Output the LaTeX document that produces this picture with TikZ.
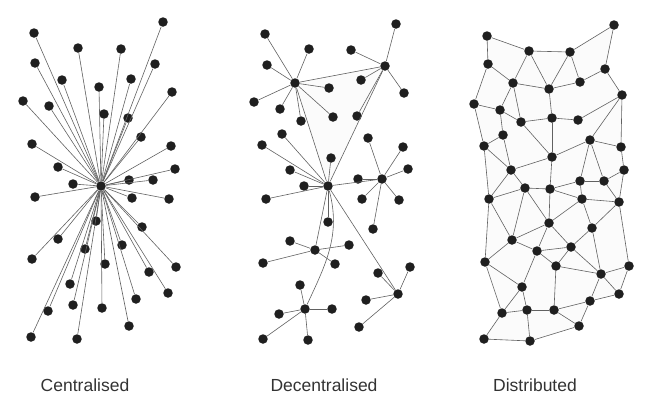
\documentclass[tikz,border=0pt]{standalone}
\usepackage{fontspec}
\setmainfont{Liberation Sans}
\usetikzlibrary{backgrounds}

\begin{document}
\begin{tikzpicture}[x=1pt, y=-1pt, -, semithick]
\tikzstyle{dot}=[circle,fill=black!88,inner sep=0pt,minimum size=9.5pt]
\tikzstyle{every edge}=[draw,black!62,line width=0.6pt]
\tikzstyle{caption}=[text=black!80,font=\fontsize{17.5}{20}\selectfont]
\useasboundingbox (0,0) rectangle (649,408);
% centralised
\node[dot] (C) at (101,186) {};
\node[dot] (c1) at (163,22) {};  \node[dot] (c2) at (34,33) {};   \node[dot] (c3) at (78,48) {};
\node[dot] (c4) at (121,49) {};  \node[dot] (c5) at (35,63) {};   \node[dot] (c6) at (155,64) {};
\node[dot] (c7) at (62,80) {};   \node[dot] (c8) at (131,79) {};  \node[dot] (c9) at (99,87) {};
\node[dot] (c10) at (172,92) {}; \node[dot] (c11) at (23,101) {}; \node[dot] (c12) at (49,106) {};
\node[dot] (c13) at (104,114) {};\node[dot] (c14) at (128,118) {};\node[dot] (c15) at (141,137) {};
\node[dot] (c16) at (32,144) {}; \node[dot] (c17) at (171,146) {};\node[dot] (c18) at (58,167) {};
\node[dot] (c19) at (175,169) {};\node[dot] (c20) at (129,180) {};\node[dot] (c21) at (153,180) {};
\node[dot] (c22) at (73,184) {}; \node[dot] (c23) at (35,197) {}; \node[dot] (c24) at (132,198) {};
\node[dot] (c25) at (169,199) {};\node[dot] (c26) at (96,221) {}; \node[dot] (c27) at (142,227) {};
\node[dot] (c28) at (58,239) {}; \node[dot] (c29) at (85,249) {}; \node[dot] (c30) at (122,245) {};
\node[dot] (c31) at (32,259) {}; \node[dot] (c32) at (105,264) {};\node[dot] (c33) at (176,267) {};
\node[dot] (c34) at (149,272) {};\node[dot] (c35) at (70,284) {}; \node[dot] (c36) at (168,293) {};
\node[dot] (c37) at (136,299) {};\node[dot] (c38) at (73,305) {}; \node[dot] (c39) at (102,308) {};
\node[dot] (c40) at (48,311) {}; \node[dot] (c41) at (129,326) {};\node[dot] (c42) at (31,337) {};
\node[dot] (c43) at (77,339) {};
\path (C) edge (c1) edge (c2) edge (c3) edge (c4) edge (c5) edge (c6) edge (c7) edge (c8)
          edge (c9) edge (c10) edge (c11) edge (c12) edge (c13) edge (c14) edge (c15)
          edge (c16) edge (c17) edge (c18) edge (c19) edge (c20) edge (c21) edge (c22)
          edge (c23) edge (c24) edge (c25) edge (c26) edge (c27) edge (c28) edge (c29)
          edge (c30) edge (c31) edge (c32) edge (c33) edge (c34) edge (c35) edge (c36)
          edge (c37) edge (c38) edge (c39) edge (c40) edge (c41) edge (c42) edge (c43);
\node[caption] (capC) at (85,385) {Centralised};

% decentralised
\node[dot] (D1) at (295,83) {};  \node[dot] (D2) at (385,66) {};  \node[dot] (D3) at (328,186) {};
\node[dot] (D4) at (382,179) {}; \node[dot] (D5) at (315,250) {}; \node[dot] (D6) at (398,294) {};
\node[dot] (D7) at (305,309) {};
\node[dot] (a1) at (265,34) {};  \node[dot] (a2) at (309,49) {};  \node[dot] (a3) at (267,65) {};
\node[dot] (a4) at (329,88) {};  \node[dot] (a5) at (254,102) {}; \node[dot] (a6) at (280,109) {};
\node[dot] (a7) at (301,121) {}; \node[dot] (a8) at (333,117) {};
\node[dot] (b1) at (396,24) {};  \node[dot] (b2) at (351,50) {};  \node[dot] (b3) at (361,80) {};
\node[dot] (b4) at (404,93) {};  \node[dot] (b5) at (357,116) {};
\node[dot] (e1) at (282,134) {}; \node[dot] (e2) at (262,145) {}; \node[dot] (e3) at (331,158) {};
\node[dot] (e4) at (290,170) {}; \node[dot] (e5) at (304,186) {}; \node[dot] (e6) at (266,199) {};
\node[dot] (e7) at (328,222) {};
\node[dot] (f1) at (368,138) {}; \node[dot] (f2) at (403,147) {}; \node[dot] (f3) at (408,169) {};
\node[dot] (f4) at (358,179) {}; \node[dot] (f5) at (362,199) {}; \node[dot] (f6) at (399,200) {};
\node[dot] (f7) at (373,229) {};
\node[dot] (g1) at (290,241) {}; \node[dot] (g2) at (349,245) {}; \node[dot] (g3) at (263,263) {};
\node[dot] (g4) at (335,264) {};
\node[dot] (h1) at (410,267) {}; \node[dot] (h2) at (378,273) {}; \node[dot] (h3) at (366,300) {};
\node[dot] (h4) at (359,327) {};
\node[dot] (k1) at (300,285) {}; \node[dot] (k2) at (332,309) {}; \node[dot] (k3) at (279,314) {};
\node[dot] (k4) at (263,339) {}; \node[dot] (k5) at (308,340) {};
\begin{scope}[on background layer]
\fill[black!1.5] (D1.center) -- (D2.center) -- (D3.center) -- cycle;
\end{scope}
\path
(D1) edge (a1) edge (a2) edge (a3) edge (a4) edge (a5) edge (a6) edge (a7) edge (a8)
     edge (D2) edge (D3)
(D2) edge (b1) edge (b2) edge (b3) edge (b4) edge (b5) edge (D3)
(D3) edge (e1) edge (e2) edge (e3) edge (e4) edge (e5) edge (e6) edge (e7)
     edge (D4) edge (D5) edge (D6)
     edge[out=-75,in=65] (D7)
(D4) edge (f1) edge (f2) edge (f3) edge (f4) edge (f5) edge (f6) edge (f7)
(D5) edge (g1) edge (g2) edge (g3) edge (g4)
(D6) edge (h1) edge (h2) edge (h3) edge (h4)
(D7) edge (k1) edge (k2) edge (k3) edge (k4) edge (k5);
\node[caption] (capD) at (324,385) {Decentralised};

% distributed
\node[dot] (m1) at (614,25) {};  \node[dot] (m2) at (487,36) {};  \node[dot] (m3) at (529,51) {};
\node[dot] (m4) at (570,52) {};  \node[dot] (m5) at (605,69) {};  \node[dot] (m6) at (488,64) {};
\node[dot] (m7) at (513,83) {};  \node[dot] (m8) at (549,89) {};  \node[dot] (m9) at (580,82) {};
\node[dot] (m10) at (622,95) {}; \node[dot] (m11) at (474,104) {};\node[dot] (m12) at (500,110) {};
\node[dot] (m13) at (521,122) {};\node[dot] (m14) at (552,118) {};\node[dot] (m15) at (578,120) {};
\node[dot] (m16) at (503,135) {};\node[dot] (m17) at (590,140) {};\node[dot] (m18) at (484,146) {};
\node[dot] (m19) at (621,147) {};\node[dot] (m20) at (552,157) {};\node[dot] (m21) at (511,170) {};
\node[dot] (m22) at (624,170) {};\node[dot] (m23) at (580,181) {};\node[dot] (m24) at (604,181) {};
\node[dot] (m25) at (525,188) {};\node[dot] (m26) at (550,189) {};\node[dot] (m27) at (489,199) {};
\node[dot] (m28) at (582,199) {};\node[dot] (m29) at (619,202) {};\node[dot] (m30) at (549,223) {};
\node[dot] (m31) at (592,228) {};\node[dot] (m32) at (512,240) {};\node[dot] (m33) at (571,247) {};
\node[dot] (m34) at (537,251) {};\node[dot] (m35) at (485,262) {};\node[dot] (m36) at (556,266) {};
\node[dot] (m37) at (629,266) {};\node[dot] (m38) at (601,274) {};\node[dot] (m39) at (522,287) {};
\node[dot] (m40) at (619,294) {};\node[dot] (m41) at (590,301) {};\node[dot] (m42) at (502,313) {};
\node[dot] (m43) at (527,310) {};\node[dot] (m44) at (554,310) {};\node[dot] (m45) at (579,326) {};
\node[dot] (m46) at (484,339) {};\node[dot] (m47) at (530,341) {};
\begin{scope}[on background layer]
\fill[black!1.5] (m2.center) -- (m3.center) -- (m4.center) -- (m1.center) -- (m5.center)
  -- (m10.center) -- (m19.center) -- (m22.center) -- (m29.center) -- (m37.center)
  -- (m40.center) -- (m41.center) -- (m45.center) -- (m47.center) -- (m46.center)
  -- (m42.center) -- (m35.center) -- (m27.center) -- (m18.center) -- (m11.center)
  -- (m6.center) -- cycle;
\end{scope}
\path
(m1) edge (m4) edge (m5)
(m2) edge (m3) edge (m6)
(m3) edge (m4) edge (m7) edge (m8)
(m4) edge (m8) edge (m9)
(m5) edge (m9) edge (m10)
(m6) edge (m7) edge (m11)
(m7) edge (m8) edge (m12) edge (m13)
(m8) edge (m9) edge (m14)
(m10) edge (m15) edge (m17) edge (m19)
(m11) edge (m12) edge (m18)
(m12) edge (m13) edge (m16)
(m13) edge (m14) edge (m20)
(m14) edge (m15) edge (m20)
(m16) edge (m18) edge (m21)
(m17) edge (m19) edge (m20) edge (m23) edge (m24)
(m18) edge (m21) edge (m27)
(m19) edge (m22)
(m20) edge (m21) edge (m26)
(m21) edge (m25) edge (m27)
(m22) edge (m24) edge (m29)
(m23) edge (m24) edge (m26) edge (m28)
(m24) edge (m29)
(m25) edge (m26) edge (m27) edge (m30) edge (m32)
(m26) edge (m28) edge (m30)
(m27) edge (m32) edge (m35)
(m28) edge (m29) edge (m30) edge (m31)
(m29) edge (m31) edge (m37)
(m30) edge (m32) edge (m33) edge (m34)
(m31) edge (m33) edge (m38)
(m32) edge (m34) edge (m35)
(m33) edge (m34) edge (m36) edge (m38)
(m34) edge (m36) edge (m39)
(m35) edge (m39) edge (m42)
(m36) edge (m38) edge (m44)
(m37) edge (m38) edge (m40)
(m38) edge (m40) edge (m41)
(m39) edge (m42) edge (m43)
(m40) edge (m41)
(m41) edge (m44) edge (m45)
(m42) edge (m43) edge (m46)
(m43) edge (m44) edge (m47)
(m44) edge (m45)
(m45) edge (m47)
(m46) edge (m47);
\node[caption] (capM) at (535,385) {Distributed};
\end{tikzpicture}
\end{document}
